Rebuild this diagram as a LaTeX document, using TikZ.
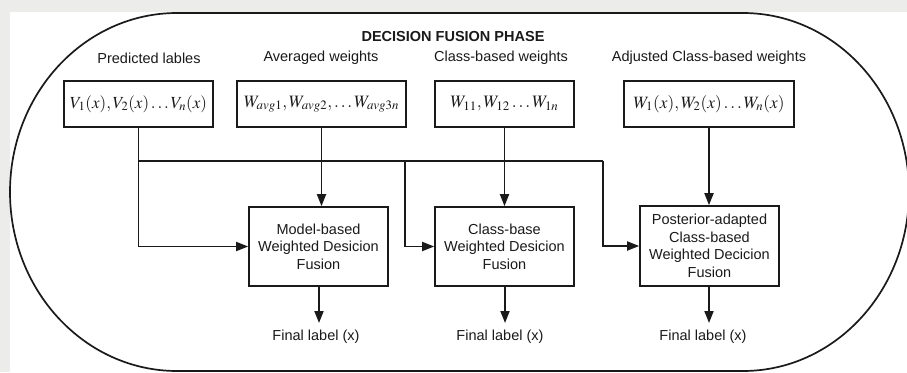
\documentclass[tikz,border=0pt]{standalone}
\usepackage{mathptmx}
\usepackage[no-math]{fontspec}
\usepackage{graphicx}
\setmainfont{Liberation Sans}
\usetikzlibrary{arrows.meta}
\definecolor{margin}{HTML}{ECEDEB}
\definecolor{ink}{HTML}{1A1A1A}
\newcommand{\fitmath}[2]{\resizebox{#1}{!}{$#2$}}
\tikzset{
  every picture/.style={x=1pt,y=-1pt},
  txt/.style={font=\fontsize{14.5}{17.5}\selectfont, inner sep=0pt, text=ink},
  inbox/.style={draw=ink, line width=1.6pt, minimum height=46pt, inner sep=0pt,
    text=ink, font=\fontsize{16}{19}\selectfont},
  fusebox/.style={draw=ink, line width=1.6pt, minimum width=139pt, inner sep=0pt,
    align=center, text=ink, font=\fontsize{14.5}{17.5}\selectfont},
  link/.style={draw=ink, line width=1.8pt},
  arr/.style={link, -{Triangle[length=12pt,width=9pt]}},
}
\begin{document}
\begin{tikzpicture}
  % page and paper
  \useasboundingbox (0,0) rectangle (907,372);
  \fill[margin] (0,0) rectangle (907,372);
  \fill[white] (10,12) rectangle (907,372);

  % rounded phase frame
  \draw[ink, line width=1.7pt]
    (177,13) -- (743,13)
    arc[start angle=90, end angle=-90, x radius=166pt, y radius=179pt]
    -- (177,371)
    arc[start angle=270, end angle=90, x radius=167pt, y radius=179pt];

  \node[txt, font=\fontsize{14.5}{17.5}\selectfont\bfseries] (title) at (453,37) {DECISION FUSION PHASE};

  % inputs
  \node[txt] (l1) at (149,58) {Predicted lables};
  \node[txt] (l2) at (321,58) {Averaged weights};
  \node[txt] (l3) at (501,58) {Class-based weights};
  \node[txt] (l4) at (709,58) {Adjusted Class-based weights};

  \node[inbox, minimum width=149pt] (in1) at (138.5,104) {\fitmath{137pt}{V_1(x), V_2(x)\ldots V_n(x)}};
  \node[inbox, minimum width=169pt] (in2) at (321.5,104) {\fitmath{155pt}{W_{avg1}, W_{avg2}, \ldots W_{avg3n}}};
  \node[inbox, minimum width=139pt] (in3) at (504.5,104) {\fitmath{108pt}{W_{11}, W_{12}\ldots W_{1n}}};
  \node[inbox, minimum width=170pt] (in4) at (709,104) {\fitmath{151pt}{W_1(x), W_2(x)\ldots W_n(x)}};

  % fusion blocks
  \node[fusebox, minimum height=79pt] (fM) at (318.5,246.5) {Model-based\\Weighted Desicion\\Fusion};
  \node[fusebox, minimum height=79pt] (fC) at (504.5,246.5) {Class-base\\Weighted Desicion\\Fusion};
  \node[fusebox, minimum height=80pt] (fP) at (709.5,246) {Posterior-adapted\\Class-based\\Weighted Decicion\\Fusion};

  % outputs
  \node[txt] (o1) at (316,337) {Final label (x)};
  \node[txt] (o2) at (500,337) {Final label (x)};
  \node[txt] (o3) at (703,337) {Final label (x)};

  % predicted labels feed every fusion block
  \coordinate (j1) at (in1.south |- 0,161);
  \coordinate (j2) at (405,161);
  \coordinate (j3) at (603,161);
  \draw[arr] (in1.south) |- (fM.west);
  \draw[link] (j1) -- (j3);
  \draw[arr] (j2) |- (fC.west);
  \draw[arr] (j3) |- (fP.west);

  % weights feed their own block
  \draw[arr] (in2.south) -- (in2.south |- fM.north);
  \draw[arr] (in3.south) -- (in3.south |- fC.north);
  \draw[arr] (in4.south) -- (in4.south |- fP.north);

  % decisions
  \coordinate (e1) at (319,323);
  \coordinate (e2) at (505,323);
  \coordinate (e3) at (709,323);
  \draw[arr] (fM.south -| e1) -- (e1);
  \draw[arr] (fC.south -| e2) -- (e2);
  \draw[arr] (fP.south -| e3) -- (e3);
\end{tikzpicture}
\end{document}
